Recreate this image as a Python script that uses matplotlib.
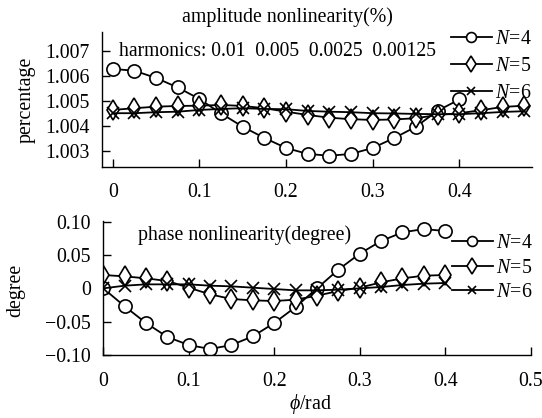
import matplotlib
matplotlib.use("Agg")
import matplotlib.pyplot as plt
import numpy as np

plt.rcParams['font.family'] = ['Liberation Serif', 'DejaVu Serif']
plt.rcParams['mathtext.fontset'] = 'custom'
plt.rcParams['mathtext.rm'] = 'Liberation Serif'
plt.rcParams['mathtext.it'] = 'Liberation Serif:italic'

# ---- data ----
phi_top4 = [0, 0.025, 0.05, 0.075, 0.1, 0.125, 0.15, 0.175, 0.2, 0.225, 0.25,
            0.275, 0.3, 0.325, 0.35, 0.375, 0.4]
phi_top56 = [0, 0.025, 0.05, 0.075, 0.1, 0.125, 0.15, 0.175, 0.2, 0.225, 0.25,
             0.275, 0.3, 0.325, 0.35, 0.375, 0.4, 0.425, 0.45, 0.475]
amp_N4 = [1.00627, 1.00620, 1.00591, 1.00553, 1.00507, 1.00449, 1.00396, 1.00351,
          1.00311, 1.00287, 1.00280, 1.00287, 1.00311, 1.00351, 1.00396, 1.00460,
          1.00505]
amp_N5 = [1.00463, 1.00470, 1.00476, 1.00479, 1.00480, 1.00483, 1.00479, 1.00470,
          1.00456, 1.00443, 1.00432, 1.00426, 1.00423, 1.00425, 1.00430, 1.00443,
          1.00450, 1.00462, 1.00475, 1.00480]
amp_N6 = [1.00450, 1.00450, 1.00454, 1.00456, 1.00463, 1.00467, 1.00470, 1.00467,
          1.00466, 1.00459, 1.00456, 1.00454, 1.00450, 1.00449, 1.00447, 1.00446,
          1.00446, 1.00450, 1.00455, 1.00458]

phi_bot = [0, 0.025, 0.05, 0.075, 0.1, 0.125, 0.15, 0.175, 0.2, 0.225, 0.25,
           0.275, 0.3, 0.325, 0.35, 0.375, 0.4]
pha_N4 = [0.0, -0.027, -0.052, -0.073, -0.085, -0.091, -0.085, -0.072, -0.052,
          -0.028, 0.0, 0.028, 0.052, 0.071, 0.084, 0.089, 0.086]
pha_N5 = [0.020, 0.018, 0.015, 0.011, 0.001, -0.009, -0.016, -0.018, -0.019,
          -0.017, -0.011, -0.004, 0.001, 0.009, 0.015, 0.019, 0.020]
pha_N6 = [0.0, 0.004, 0.006, 0.006, 0.006, 0.004, 0.003, 0.001, -0.001, -0.003,
          -0.003, -0.002, 0.0, 0.002, 0.005, 0.007, 0.008]

labels = [r'$N\!=\!4$', r'$N\!=\!5$', r'$N\!=\!6$']
top_xticks = [0, 0.1, 0.2, 0.3, 0.4]
top_xticklabels = ['0', '0.1', '0.2', '0.3', '0.4']
top_yticks = [1.003, 1.004, 1.005, 1.006, 1.007]
bot_xticks = [0, 0.1, 0.2, 0.3, 0.4, 0.5]
bot_xticklabels = ['0', '0.1', '0.2', '0.3', '0.4', '0.5']
bot_yticks = [-0.10, -0.05, 0, 0.05, 0.10]
bot_yticklabels = ['\u22120.10', '\u22120.05', '0', '0.05', '0.10']
harmonics_text = 'harmonics: 0.01  0.005  0.0025  0.00125'

FS = 14.3
W, H = 542, 418
fig = plt.figure(figsize=(W / 100, H / 100), dpi=100)

def frac(l, t, r, b):
    return [l / W, 1 - b / H, (r - l) / W, (b - t) / H]

ax1 = fig.add_axes(frac(102.3, 31.7, 531.7, 166.7))
ax2 = fig.add_axes(frac(103.3, 220.7, 530.6, 355))

style = dict(color='black', lw=1.3, mfc='white', mec='black', mew=1.2)
mk = [dict(marker='o', ms=9.5), dict(marker='d', ms=10.5), dict(marker='x', ms=8)]

ax1.plot(phi_top4, amp_N4, label=labels[0], **style, **mk[0])
ax1.plot(phi_top56, amp_N5, label=labels[1], **style, **mk[1])
ax1.plot(phi_top56, amp_N6, label=labels[2], **style, **mk[2])

ax2.plot(phi_bot, pha_N4, label=labels[0], **style, **mk[0])
ax2.plot(phi_bot, pha_N5, label=labels[1], **style, **mk[1])
ax2.plot(phi_bot, pha_N6, label=labels[2], **style, **mk[2])

for ax in (ax1, ax2):
    for s in ('top', 'right'):
        ax.spines[s].set_visible(False)
    for s in ('left', 'bottom'):
        ax.spines[s].set_linewidth(1.0)
    ax.tick_params(direction='in', length=6, width=1.0, labelsize=FS)
    ax.tick_params(axis='y', pad=9)
    ax.tick_params(axis='x', pad=12)

ax1.set_xlim(-0.012, 0.4835)
ax1.set_ylim(1.00236, 1.00776)
ax1.set_xticks(top_xticks)
ax1.set_xticklabels(top_xticklabels)
ax1.set_yticks(top_yticks)
ax1.set_yticklabels([f'{v:.3f}' for v in top_yticks])

ax2.set_xlim(0, 0.5)
ax2.set_ylim(-0.1, 0.1015)
ax2.set_xticks(bot_xticks)
ax2.set_xticklabels(bot_xticklabels)
ax2.set_yticks(bot_yticks)
ax2.set_yticklabels(bot_yticklabels)

fig.text(287 / W, 1 - 17 / H, 'amplitude nonlinearity(%)', ha='center',
         va='center', fontsize=FS)
ht = fig.text(119 / W, 1 - 51 / H, harmonics_text,
              ha='left', va='center', fontsize=FS)
renderer = fig.canvas.get_renderer()
wpx = ht.get_window_extent(renderer).width
ht.set_fontsize(FS * (436 - 119) / wpx)

fig.text(138 / W, 1 - 235 / H, 'phase nonlinearity(degree)', ha='left',
         va='center', fontsize=FS)
fig.text(26 / W, 1 - 100 / H, 'percentage', rotation=90, ha='center',
         va='center', fontsize=FS)
fig.text(16 / W, 1 - 290 / H, 'degree', rotation=90, ha='center',
         va='center', fontsize=FS)
fig.text(310 / W, 1 - 404 / H, r'$\phi$/rad', ha='center', va='center',
         fontsize=FS)

legkw = dict(loc='upper left', frameon=False, fontsize=FS, handlelength=2.05,
             handletextpad=0.15, borderpad=0, borderaxespad=0, markerscale=0.75)
fig.legend(handles=ax1.lines, labels=labels, labelspacing=0.42,
           bbox_to_anchor=(451 / W, 1 - 29.5 / H), **legkw)
fig.legend(handles=ax2.lines, labels=labels, labelspacing=0.28,
           bbox_to_anchor=(452 / W, 1 - 234 / H), **legkw)

fig.savefig('out.png', dpi=100)
